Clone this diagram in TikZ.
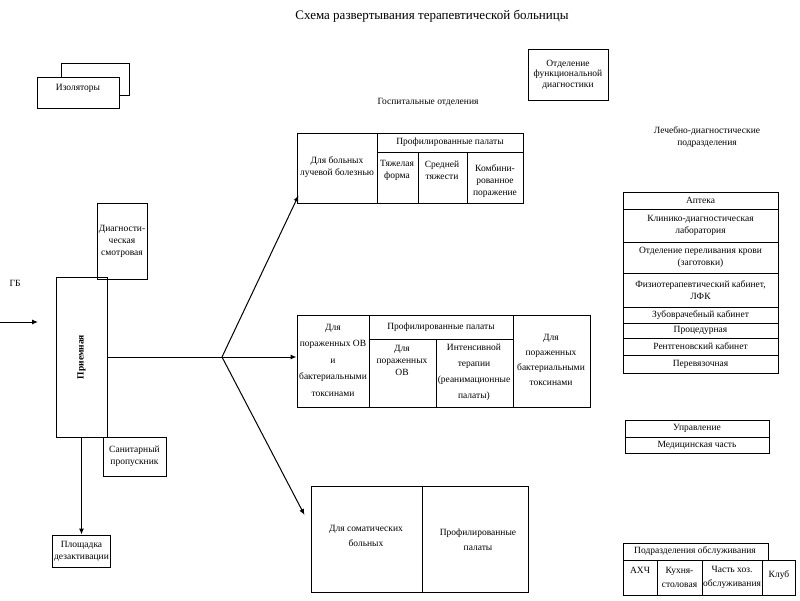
\documentclass[tikz,border=0pt]{standalone}
\usepackage{fontspec}
\setmainfont{Liberation Serif}
\usetikzlibrary{arrows.meta, calc}

\begin{document}
\begin{tikzpicture}[x=1pt, y=-1pt, line width=1pt,
    cell/.style={font=\fontsize{9.5}{12}\selectfont, align=center, inner sep=1pt},
    frame/.style={draw, line width=1pt, inner sep=1pt, align=center, font=\fontsize{9.5}{12}\selectfont},
    link/.style={-{Latex[length=6pt,width=5pt]}, line width=1pt}]
    \useasboundingbox (0,0) rectangle (800,600);

    % Title
    \node[font=\fontsize{13}{15}\selectfont] (title) at (432,16) {Схема развертывания терапевтической больницы};

    % Isolators
    \draw (61,63) rectangle (129,95);
    \draw[fill=white] (37,77) rectangle (119,108);
    \node[cell] (isol) at (78,88) {Изоляторы};

    % Functional diagnostics
    \node[frame, minimum width=80pt, minimum height=51pt, font=\fontsize{9.5}{10.5}\selectfont] (funcdiag) at (568,74.5) {Отделение\\функциональной\\диагностики};

    % Section headings
    \node[cell] (hosphead) at (428,102) {Госпитальные отделения};
    \node[cell] (labhead) at (707,137) {Лечебно-диагностические\\подразделения};

    % Reception area
    \node[cell] (gb) at (15,283) {ГБ};
    \coordinate (gbin) at (0,322);
    \coordinate (gbout) at (38,322);
    \draw[link] (gbin) -- (gbout);
    \node[frame, minimum width=51pt, minimum height=160pt] (reception) at (81.5,357) {};
    \node[cell, rotate=90, font=\fontsize{9.5}{12}\selectfont\bfseries] (receptlabel) at (reception.center) {Приемная};
    \node[frame, minimum width=50pt, minimum height=76pt] (diagroom) at (122,241) {Диагности-\\ческая\\смотровая};
    \node[frame, minimum width=63pt, minimum height=39pt] (sanitary) at (134.5,456.5) {Санитарный\\пропускник};
    \node[frame, minimum width=58pt, minimum height=32pt] (decon) at (81.5,551) {Площадка\\дезактивации};
    \draw[link] (reception.south) -- (decon.north);

    % Hospital block 1
    \node[frame, minimum width=226pt, minimum height=70pt] (hosp1) at (410,168) {};
    \draw (377,133) -- (377,203);
    \draw (377,152) -- (523,152);
    \draw (418,152) -- (418,203);
    \draw (467,152) -- (467,203);
    \node[cell] (rad) at (337,167) {Для больных\\лучевой болезнью};
    \node[cell] (prof1) at (450,142) {Профилированные палаты};
    \node[cell] (severe) at (397,170) {Тяжелая\\форма};
    \node[cell] (medium) at (442,170) {Средней\\тяжести};
    \node[cell] (combined) at (495,181) {Комбини-\\рованное\\поражение};

    % Hospital block 2
    \node[frame, minimum width=293pt, minimum height=92pt] (hosp2) at (443.5,361) {};
    \draw (369,315) -- (369,407);
    \draw (513,315) -- (513,407);
    \draw (369,339) -- (513,339);
    \draw (436,339) -- (436,407);
    \node[cell, font=\fontsize{9.5}{16.5}\selectfont] (chem) at (333,360) {Для\\пораженных ОВ\\и\\бактериальными\\токсинами};
    \node[cell] (prof2) at (441,327) {Профилированные палаты};
    \node[cell] (ov) at (402,360) {Для\\пораженных\\ОВ};
    \node[cell, font=\fontsize{9.5}{16}\selectfont] (icu) at (474,372) {Интенсивной\\терапии\\(реанимационные\\палаты)};
    \node[cell, font=\fontsize{9.5}{15}\selectfont] (toxin) at (551,360) {Для\\пораженных\\бактериальными\\токсинами};

    % Hospital block 3
    \node[frame, minimum width=217pt, minimum height=106pt] (hosp3) at (419.5,539) {};
    \draw (422,486) -- (422,592);
    \node[cell, font=\fontsize{9.5}{15}\selectfont] (somatic) at (366,536) {Для соматических\\больных};
    \node[cell, font=\fontsize{9.5}{15}\selectfont] (prof3) at (478,540) {Профилированные\\палаты};

    % Connectors from reception
    \coordinate (fork) at (222,357);
    \draw (reception.east) -- (fork);
    \draw[link] (fork) -- (fork -| hosp2.west);
    \draw[link] (fork) -- ([xshift=2pt, yshift=8pt]hosp1.south west);
    \draw[link] (fork) -- ([xshift=-6pt, yshift=24pt]hosp3.west);

    % Medical and diagnostic units
    \draw (623,192) rectangle (778,373);
    \foreach \y in {209,242,273,307,323,338,355}
        \draw (623,\y) -- (778,\y);
    \foreach \y/\t [count=\i] in {200.5/Аптека, 225.5/{Клинико-диагностическая\\лаборатория},
        257.5/{Отделение переливания крови\\(заготовки)}, 290/{Физиотерапевтический кабинет,\\ЛФК},
        315/Зубоврачебный кабинет, 330.5/Процедурная, 346.5/Рентгеновский кабинет, 364/Перевязочная}
        \node[cell] (lab\i) at (700.5,\y) {\t};

    % Administration
    \draw (625,420) rectangle (769,453);
    \draw (625,437) -- (769,437);
    \node[cell] (admin) at (697,428.5) {Управление};
    \node[cell] (medpart) at (697,445) {Медицинская часть};

    % Service units
    \draw (623,543) rectangle (768,560);
    \draw (623,560) rectangle (795,595);
    \draw (657,560) -- (657,595);
    \draw (702,560) -- (702,595);
    \draw (762,560) -- (762,595);
    \node[cell] (service) at (695,551.5) {Подразделения обслуживания};
    \node[cell] (ahch) at (640,570) {АХЧ};
    \node[cell, font=\fontsize{9.5}{14}\selectfont] (kitchen) at (679.5,577) {Кухня-\\столовая};
    \node[cell, font=\fontsize{9.5}{14}\selectfont] (household) at (732,577) {Часть хоз.\\обслуживания};
    \node[cell] (club) at (779,575) {Клуб};
\end{tikzpicture}
\end{document}
